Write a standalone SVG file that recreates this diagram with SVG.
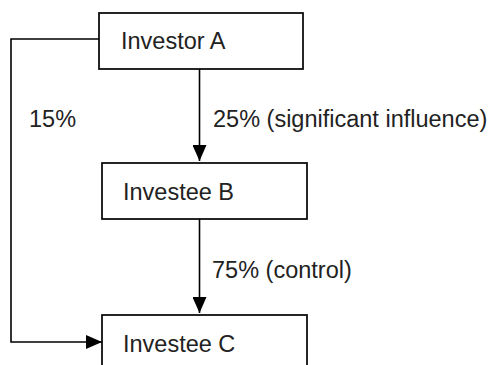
<svg xmlns="http://www.w3.org/2000/svg" width="492" height="365" viewBox="0 0 492 365">
<style>
.box{fill:#fff;stroke:#000;stroke-width:1.7}
.line{fill:none;stroke:#000;stroke-width:1.6}
.t{font-family:"Liberation Sans",Arial,sans-serif;font-size:23.5px;fill:#222}
</style>
<defs>
<marker id="arr" markerUnits="userSpaceOnUse" markerWidth="16" markerHeight="14" refX="16" refY="7" orient="auto">
<path d="M0,0 L16,7 L0,14 z" fill="#000"/>
</marker>
</defs>
<rect width="492" height="365" fill="#fff"/>
<g id="connectors">
<path class="line" d="M99,39 H11 V342 H102" marker-end="url(#arr)"/>
<path class="line" d="M199.5,69 V161" marker-end="url(#arr)"/>
<path class="line" d="M199.5,219 V313" marker-end="url(#arr)"/>
<text class="t" x="29" y="127">15%</text>
<text class="t" x="213" y="127">25% (significant influence)</text>
<text class="t" x="212" y="278">75% (control)</text>
</g>
<g id="investor-a">
<rect class="box" x="99" y="13" width="204" height="56"/>
<text class="t" x="121" y="49">Investor A</text>
</g>
<g id="investee-b">
<rect class="box" x="102" y="163" width="205" height="56"/>
<text class="t" x="123" y="200">Investee B</text>
</g>
<g id="investee-c">
<rect class="box" x="102" y="315" width="205" height="60"/>
<text class="t" x="123" y="352">Investee C</text>
</g>
</svg>
